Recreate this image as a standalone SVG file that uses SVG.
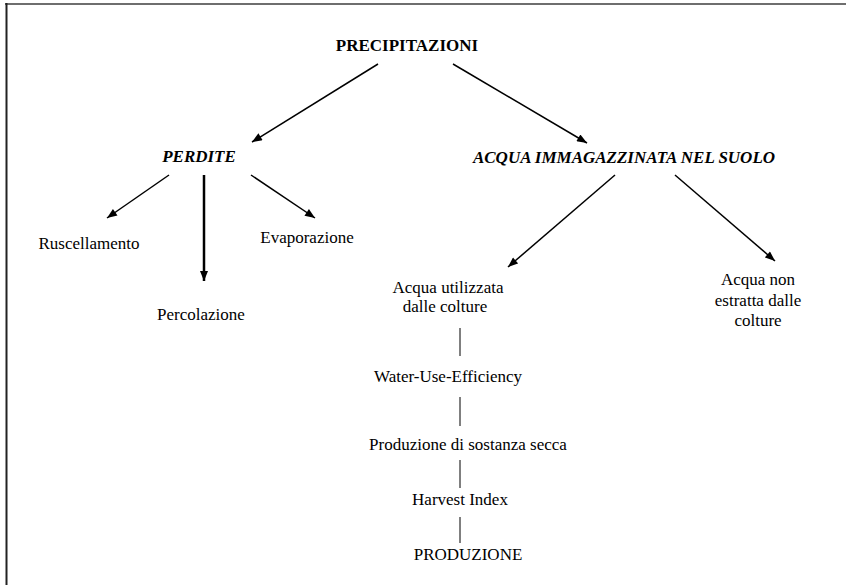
<svg xmlns="http://www.w3.org/2000/svg" width="846" height="585" viewBox="0 0 846 585">
<style>
text{font-family:"Liberation Serif","Times New Roman",serif;font-size:17px;fill:#000;text-anchor:middle}
.b{font-weight:bold}
.bi{font-weight:bold;font-style:italic}
.c{stroke:#000;stroke-width:1.5;fill:none}
.t{stroke:#000;stroke-width:1;fill:none}
</style>
<defs>
<marker id="ah" viewBox="0 0 10 8" refX="10" refY="4" markerWidth="11" markerHeight="8" markerUnits="userSpaceOnUse" orient="auto">
<path d="M0,0 L10,4 L0,8 z" fill="#000"/>
</marker>
</defs>
<rect width="846" height="585" fill="#fff"/>
<line x1="5" y1="4" x2="846" y2="4" stroke="#6e6e6e" stroke-width="2"/>
<line x1="6.5" y1="3" x2="6.5" y2="585" stroke="#222" stroke-width="2"/>
<g id="connectors">
<line class="c" x1="378" y1="64" x2="252" y2="142" marker-end="url(#ah)"/>
<line class="c" x1="453" y1="64" x2="587" y2="143" marker-end="url(#ah)"/>
<line class="c" x1="169" y1="175" x2="107" y2="218" marker-end="url(#ah)"/>
<line x1="204" y1="175" x2="204" y2="281" stroke="#000" stroke-width="2.5" marker-end="url(#ah)"/>
<line class="c" x1="251" y1="175" x2="315" y2="218" marker-end="url(#ah)"/>
<line class="c" x1="615" y1="175" x2="508" y2="267" marker-end="url(#ah)"/>
<line class="c" x1="675" y1="175" x2="775" y2="261" marker-end="url(#ah)"/>
<line class="t" x1="460" y1="328" x2="460" y2="356"/>
<line class="t" x1="460" y1="397" x2="460" y2="426"/>
<line class="t" x1="460" y1="460" x2="460" y2="488"/>
<line class="t" x1="460" y1="517" x2="460" y2="543"/>
</g>
<g id="precipitazioni"><text class="b" x="407" y="51">PRECIPITAZIONI</text></g>
<g id="perdite"><text class="bi" x="199" y="162">PERDITE</text></g>
<g id="acqua-immagazzinata"><text class="bi" x="624" y="163">ACQUA IMMAGAZZINATA NEL SUOLO</text></g>
<g id="ruscellamento"><text x="89" y="249">Ruscellamento</text></g>
<g id="evaporazione"><text x="307" y="243">Evaporazione</text></g>
<g id="percolazione"><text x="201" y="320">Percolazione</text></g>
<g id="acqua-utilizzata"><text x="448" y="293">Acqua utilizzata</text><text x="445" y="312">dalle colture</text></g>
<g id="acqua-non-estratta"><text x="758" y="285">Acqua non</text><text x="758" y="306">estratta dalle</text><text x="758" y="326">colture</text></g>
<g id="wue"><text x="448" y="382">Water-Use-Efficiency</text></g>
<g id="sostanza-secca"><text x="468" y="450">Produzione di sostanza secca</text></g>
<g id="harvest-index"><text x="460" y="505">Harvest Index</text></g>
<g id="produzione"><text x="468" y="560">PRODUZIONE</text></g>
</svg>
